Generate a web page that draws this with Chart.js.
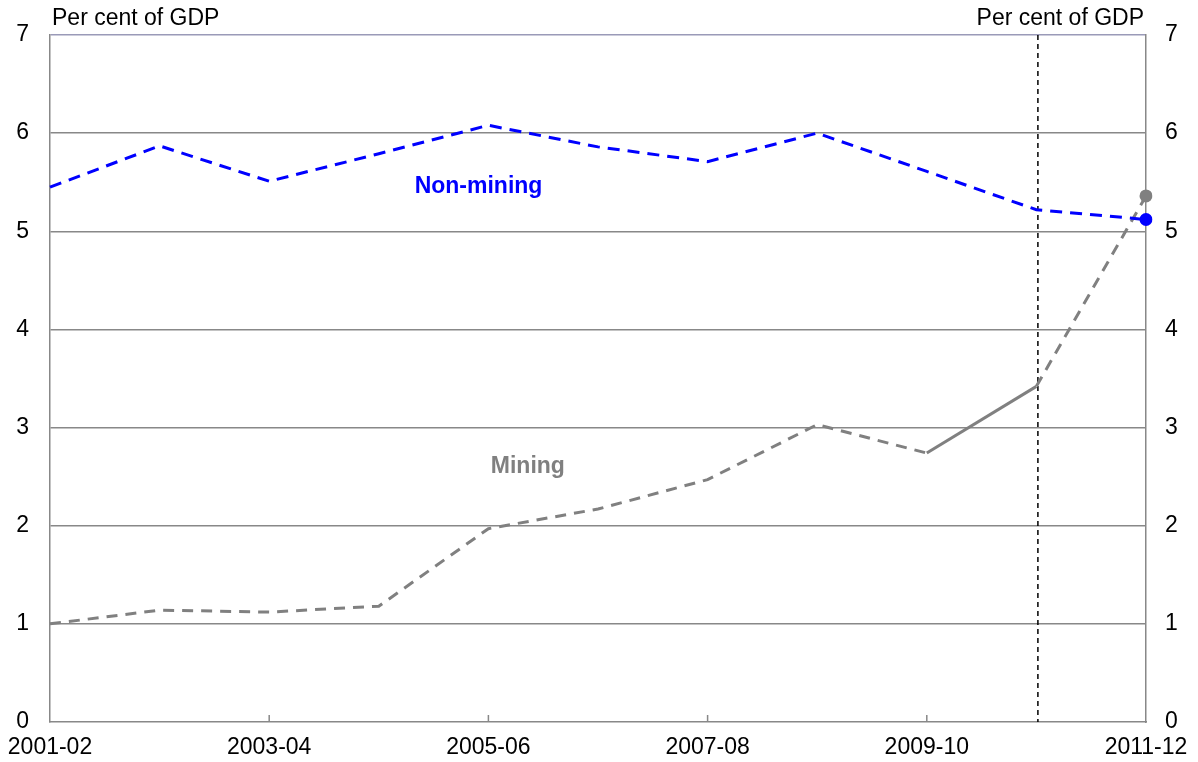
<!DOCTYPE html>
<html>
<head>
<meta charset="utf-8">
<script src="https://cdn.jsdelivr.net/npm/chart.js@4/dist/chart.umd.min.js"></script>
<style>
  html, body { margin: 0; padding: 0; background: #fff; }
  #wrap { width: 1198px; height: 762px; }
</style>
</head>
<body>
<div id="wrap"><canvas id="chart"></canvas></div>
<script>
// Data
const years = ['2001-02', '2002-03', '2003-04', '2004-05', '2005-06', '2006-07',
               '2007-08', '2008-09', '2009-10', '2010-11', '2011-12'];
const nonMining = [5.45, 5.87, 5.51, 5.79, 6.08, 5.86, 5.71, 6.00, 5.61, 5.22, 5.12];
const mining    = [1.00, 1.14, 1.12, 1.18, 1.97, 2.17, 2.47, 3.03, 2.74, 3.42, 5.36];
const yTicks = [0, 1, 2, 3, 4, 5, 6, 7];
const forecastFrom = '2010-11';

const FONT = 'Arial, "Liberation Sans", sans-serif';
const lastOnly = (r) => (ctx) => ctx.dataIndex === years.length - 1 ? r : 0;

// vertical marker, tick marks, series labels, unit titles
const extras = {
  id: 'extras',
  beforeDatasetsDraw(chart) {
    const { ctx, chartArea: a, scales: { x } } = chart;
    const px = x.getPixelForValue(years.indexOf(forecastFrom)) + 1.5;
    ctx.save();
    ctx.strokeStyle = '#000';
    ctx.lineWidth = 1.5;
    ctx.setLineDash([5, 4]);
    ctx.beginPath();
    ctx.moveTo(px, a.top);
    ctx.lineTo(px, a.bottom);
    ctx.stroke();
    ctx.restore();
  },
  afterDraw(chart) {
    const { ctx, chartArea: a, scales: { x, y } } = chart;
    ctx.save();
    // upward tick marks on labelled categories
    ctx.strokeStyle = '#888';
    ctx.lineWidth = 1.5;
    years.forEach((yr, i) => {
      if (i % 2 || i === 0 || i === years.length - 1) return;
      const px = x.getPixelForValue(i);
      ctx.beginPath();
      ctx.moveTo(px, a.bottom);
      ctx.lineTo(px, a.bottom - 7);
      ctx.stroke();
    });
    // series labels
    ctx.font = 'bold 23px ' + FONT;
    ctx.textAlign = 'center';
    ctx.textBaseline = 'middle';
    ctx.fillStyle = '#0000FF';
    ctx.fillText('Non-mining', x.getPixelForValue(3.91), y.getPixelForValue(5.45));
    ctx.fillStyle = '#808080';
    ctx.fillText('Mining', x.getPixelForValue(4.36), y.getPixelForValue(2.6));
    // unit titles
    ctx.font = '23px ' + FONT;
    ctx.fillStyle = '#000';
    ctx.textBaseline = 'alphabetic';
    ctx.textAlign = 'left';
    ctx.fillText('Per cent of GDP', a.left + 2, a.top - 10);
    ctx.textAlign = 'right';
    ctx.fillText('Per cent of GDP', a.right - 2, a.top - 10);
    ctx.restore();
  }
};

new Chart(document.getElementById('chart'), {
  type: 'line',
  data: {
    labels: years,
    datasets: [
      {
        label: 'Non-mining',
        data: nonMining,
        borderColor: '#0000FF',
        backgroundColor: '#0000FF',
        borderWidth: 3,
        borderDash: [12, 8],
        pointRadius: lastOnly(6.5),
        pointHoverRadius: 0,
        pointBorderWidth: 0,
        tension: 0
      },
      {
        label: 'Mining',
        data: mining,
        borderColor: '#808080',
        backgroundColor: '#808080',
        borderWidth: 3,
        borderDash: [11, 8],
        // the 2009-10 to 2010-11 segment is solid
        segment: {
          borderDash: (c) => years[c.p0DataIndex] === '2009-10' ? [] : undefined
        },
        pointRadius: lastOnly(6.5),
        pointHoverRadius: 0,
        pointBorderWidth: 0,
        tension: 0
      }
    ]
  },
  options: {
    responsive: true,
    maintainAspectRatio: false,
    animation: false,
    layout: { padding: { top: 35, left: 0, right: 0, bottom: 0 } },
    plugins: {
      legend: { display: false },
      tooltip: { enabled: false }
    },
    scales: {
      x: {
        type: 'category',
        offset: false,
        afterFit: (s) => { s.height = 40; s.paddingLeft = 20; s.paddingRight = 20; },
        grid: { display: false, drawTicks: false },
        border: { display: true, color: '#888', width: 1.5 },
        ticks: {
          autoSkip: false,
          maxRotation: 0,
          padding: 12,
          color: '#000',
          font: { family: FONT, size: 23 },
          callback: (v, i) => i % 2 === 0 ? years[i] : ''
        }
      },
      y: {
        position: 'left',
        min: 0,
        max: 7,
        afterFit: (s) => { s.width = 50; },
        afterBuildTicks: (s) => { s.ticks = yTicks.map(v => ({ value: v })); },
        grid: {
          drawTicks: false,
          lineWidth: 1.5,
          color: (c) => c.tick.value === 0 ? 'rgba(0,0,0,0)' : (c.tick.value === 7 ? '#9a9ab8' : '#888')
        },
        border: { display: true, color: '#888', width: 1.5 },
        ticks: {
          padding: 21,
          color: '#000',
          font: { family: FONT, size: 23 }
        }
      },
      y2: {
        position: 'right',
        min: 0,
        max: 7,
        afterFit: (s) => { s.width = 52; },
        afterBuildTicks: (s) => { s.ticks = yTicks.map(v => ({ value: v })); },
        grid: { display: false, drawTicks: false },
        border: { display: true, color: '#888', width: 1.5 },
        ticks: {
          padding: 19,
          color: '#000',
          font: { family: FONT, size: 23 }
        }
      }
    }
  },
  plugins: [extras]
});
</script>
</body>
</html>
